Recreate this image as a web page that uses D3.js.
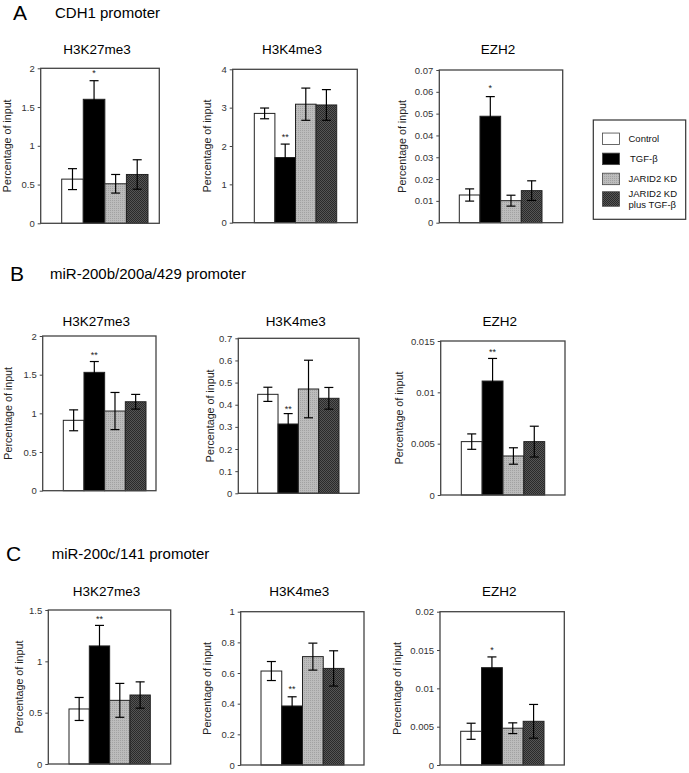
<!DOCTYPE html>
<html>
<head>
<meta charset="utf-8">
<script src="https://cdn.jsdelivr.net/npm/d3@7"></script>
<style>
  body { margin: 0; background: #fff; }
  svg { display: block; font-family: "Liberation Sans", Arial, sans-serif; }
</style>
</head>
<body>
<svg id="fig"></svg>
<script>
// groups (legend order) and panel labels
const groups = ["Control", "TGF-β", "JARID2 KD", "JARID2 KD plus TGF-β"];
const rowLetters = ["A", "B", "C"];
const promoters = ["CDH1 promoter", "miR-200b/200a/429 promoter", "miR-200c/141 promoter"];
const marks = ["H3K27me3", "H3K4me3", "EZH2"];

// y tick values per row / column
const ticks = [
  [[0, 0.5, 1, 1.5, 2], [0, 1, 2, 3, 4], [0, 0.01, 0.02, 0.03, 0.04, 0.05, 0.06, 0.07]],
  [[0, 0.5, 1, 1.5, 2], [0, 0.1, 0.2, 0.3, 0.4, 0.5, 0.6, 0.7], [0, 0.005, 0.01, 0.015]],
  [[0, 0.5, 1, 1.5], [0, 0.2, 0.4, 0.6, 0.8, 1], [0, 0.005, 0.01, 0.015, 0.02]]
];

// bar means (Control, TGF-b, JARID2 KD, JARID2 KD + TGF-b)
const means = [
  [[0.57, 1.60, 0.51, 0.63], [2.85, 1.70, 3.09, 3.07], [0.0127, 0.0488, 0.0101, 0.0147]],
  [[0.91, 1.53, 1.03, 1.15], [0.447, 0.313, 0.471, 0.429], [0.0052, 0.0111, 0.0038, 0.0052]],
  [[0.536, 1.15, 0.62, 0.672], [0.613, 0.385, 0.707, 0.63], [0.0044, 0.0127, 0.0048, 0.0057]]
];
// error bar half widths
const errs = [
  [[0.135, 0.24, 0.12, 0.19], [0.14, 0.35, 0.42, 0.40], [0.0028, 0.009, 0.0025, 0.0045]],
  [[0.135, 0.14, 0.24, 0.095], [0.032, 0.047, 0.13, 0.049], [0.00075, 0.0022, 0.0008, 0.0015]],
  [[0.112, 0.20, 0.165, 0.128], [0.062, 0.06, 0.088, 0.115], [0.00105, 0.0014, 0.0007, 0.0022]]
];
// significance marks over TGF-b bar: [label, value]
const stars = [
  [["*", 1.96], ["**", 2.29], ["*", 0.0627]],
  [["**", 1.78], ["**", 0.39], ["**", 0.0141]],
  [["**", 1.435], ["**", 0.51], ["*", 0.0152]]
];

// layout: plot box [left, right, top, bottom], bar extent [from, to], y label offset
const boxes = [
  [[40.7, 159.3, 68.3, 223.3], [232.7, 357.3, 69.3, 222.7], [439.3, 562.7, 70, 222.7]],
  [[42.7, 156, 336, 490.7], [238.3, 359, 338.3, 493.3], [440.7, 565, 341, 495]],
  [[48.3, 170.7, 610, 764], [240.7, 364, 611.7, 765], [440, 564.3, 611.7, 765]]
];
const barSpan = [
  [[61.7, 148], [254.3, 336.7], [459.3, 542]],
  [[63.3, 146], [257.7, 339], [461.3, 544.7]],
  [[69, 150.3], [261, 344], [460.7, 544]]
];
const ylabOff = [[-33, -25, -37], [-34, -28, -41], [-29, -33, -43]];
const headY = [18, 279, 559];
const letterX = [13, 10, 6];
const headX = [55, 50, 51.7];
const subTitleY = [54, 326, 596];

const W = 689, H = 773;
const svg = d3.select("#fig").attr("width", W).attr("height", H)
  .attr("viewBox", [0, 0, W, H]);
svg.append("rect").attr("width", W).attr("height", H).attr("fill", "#fff");

// textures for the two grey groups
const defs = svg.append("defs");
const pLight = defs.append("pattern").attr("id", "lightTex")
  .attr("width", 2).attr("height", 2).attr("patternUnits", "userSpaceOnUse");
pLight.append("rect").attr("width", 2).attr("height", 2).attr("fill", "#bcbcbc");
pLight.append("rect").attr("width", 1).attr("height", 1).attr("fill", "#a2a2a2");
const pDark = defs.append("pattern").attr("id", "darkTex")
  .attr("width", 2).attr("height", 2).attr("patternUnits", "userSpaceOnUse");
pDark.append("rect").attr("width", 2).attr("height", 2).attr("fill", "#555");
pDark.append("rect").attr("width", 1).attr("height", 1).attr("fill", "#2a2a2a");
pDark.append("rect").attr("x", 1).attr("y", 1).attr("width", 1).attr("height", 1).attr("fill", "#2a2a2a");

const fills = ["#fff", "#000", "url(#lightTex)", "url(#darkTex)"];

for (let r = 0; r < 3; r++) {
  // row heading
  svg.append("text").attr("x", letterX[r]).attr("y", headY[r] + 2)
    .attr("font-size", 21).text(rowLetters[r]);
  svg.append("text").attr("x", headX[r]).attr("y", headY[r])
    .attr("font-size", 15).text(promoters[r]);

  for (let c = 0; c < 3; c++) {
    const [x0, x1, y0, y1] = boxes[r][c];
    const tv = ticks[r][c];
    const y = d3.scaleLinear().domain([0, d3.max(tv)]).range([y1, y0]);
    const x = d3.scaleBand().domain(groups).range(barSpan[r][c]).padding(0);
    const g = svg.append("g");

    // subplot title
    g.append("text").attr("x", (x0 + x1) / 2 - 3).attr("y", subTitleY[r])
      .attr("text-anchor", "middle").attr("font-size", 13.5).text(marks[c]);

    // y axis
    g.append("g").attr("transform", `translate(${x0},0)`)
      .call(d3.axisLeft(y).tickValues(tv).tickFormat(d => String(d))
        .tickSize(3).tickPadding(3))
      .call(a => a.select(".domain").remove())
      .call(a => a.selectAll(".tick line").attr("stroke", "#444"))
      .call(a => a.selectAll(".tick text").attr("font-size", 9.5)
        .attr("fill", "#333").attr("font-family", "Liberation Sans, Arial, sans-serif"));

    g.append("text")
      .attr("transform", `translate(${x0 + ylabOff[r][c]},${(y0 + y1) / 2}) rotate(-90)`)
      .attr("dy", "0.35em").attr("text-anchor", "middle")
      .attr("font-size", 10.7).attr("fill", "#222").text("Percentage of input");

    // bars
    const M = means[r][c], E = errs[r][c];
    g.selectAll(".bar").data(groups).join("rect")
      .attr("class", "bar")
      .attr("x", d => x(d))
      .attr("width", x.bandwidth())
      .attr("y", (d, i) => y(M[i]))
      .attr("height", (d, i) => y(0) - y(M[i]))
      .attr("fill", (d, i) => fills[i])
      .attr("stroke", "#222").attr("stroke-width", 1);

    // error bars
    const cap = 4.5;
    const eb = g.selectAll(".err").data(groups).join("g").attr("class", "err")
      .attr("stroke", "#000").attr("stroke-width", 1.2);
    eb.append("line")
      .attr("x1", d => x(d) + x.bandwidth() / 2).attr("x2", d => x(d) + x.bandwidth() / 2)
      .attr("y1", (d, i) => y(M[i] - E[i])).attr("y2", (d, i) => y(M[i] + E[i]));
    eb.append("line")
      .attr("x1", d => x(d) + x.bandwidth() / 2 - cap).attr("x2", d => x(d) + x.bandwidth() / 2 + cap)
      .attr("y1", (d, i) => y(M[i] + E[i])).attr("y2", (d, i) => y(M[i] + E[i]));
    eb.append("line")
      .attr("x1", d => x(d) + x.bandwidth() / 2 - cap).attr("x2", d => x(d) + x.bandwidth() / 2 + cap)
      .attr("y1", (d, i) => y(M[i] - E[i])).attr("y2", (d, i) => y(M[i] - E[i]));

    // significance
    const [lab, sv] = stars[r][c];
    g.append("text").attr("x", x(groups[1]) + x.bandwidth() / 2)
      .attr("y", y(sv) + 5).attr("text-anchor", "middle")
      .attr("font-size", 9).attr("fill", "#222").text(lab);

    // plot frame
    g.append("rect").attr("x", x0).attr("y", y0)
      .attr("width", x1 - x0).attr("height", y1 - y0)
      .attr("fill", "none").attr("stroke", "#444").attr("stroke-width", 1.3);
  }
}

// legend
const lg = svg.append("g");
lg.append("rect").attr("x", 593.3).attr("y", 120).attr("width", 92.4).attr("height", 99.3)
  .attr("fill", "#fff").attr("stroke", "#333").attr("stroke-width", 1.2);
const ly = d3.scaleLinear().domain([0, 3]).range([138.8, 199]);
const legLines = [["Control"], ["TGF-β"], ["JARID2 KD"], ["JARID2 KD", "plus TGF-β"]];
groups.forEach((grp, i) => {
  const h = i === 3 ? 14.5 : 11.5;
  lg.append("rect").attr("x", 602.5).attr("y", ly(i) - h / 2)
    .attr("width", 17).attr("height", h)
    .attr("fill", fills[i]).attr("stroke", "#444").attr("stroke-width", 0.8);
  const t = lg.append("text").attr("font-size", 9.5).attr("fill", "#111");
  const lines = legLines[i];
  lines.forEach((s, k) => {
    t.append("tspan").attr("x", i === 1 ? 630 : 628.5)
      .attr("y", ly(i) + 3.4 + (k - (lines.length - 1) / 2) * 11)
      .text(s);
  });
});
</script>
</body>
</html>
